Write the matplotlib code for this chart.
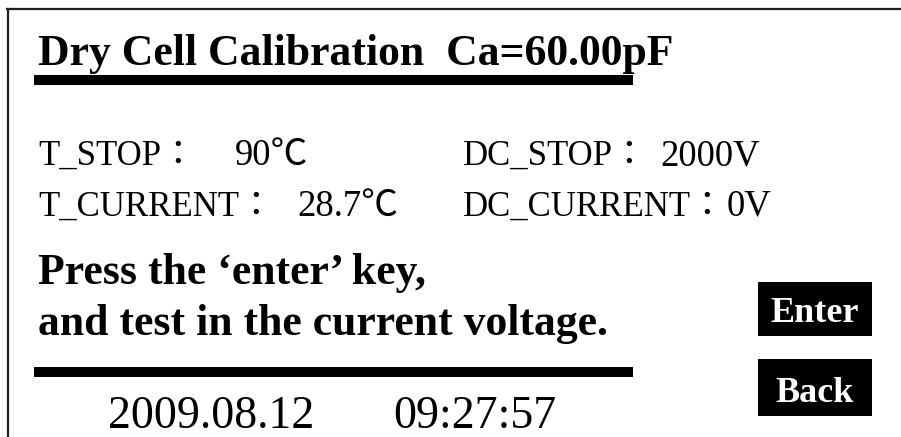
import matplotlib
matplotlib.use("Agg")
import matplotlib.pyplot as plt
from matplotlib.patches import Rectangle

# screen texts
title_text = "Dry Cell Calibration  Ca=60.00pF"
param_labels = ["T_STOP：", "T_CURRENT：", "DC_STOP：", "DC_CURRENT："]
param_values = ["90℃", "28.7℃", "2000V", "0V"]
prompt_lines = ["Press the \u2018enter\u2019 key,", "and test in the current voltage."]
date_text = "2009.08.12"
time_text = "09:27:57"
button_labels = ["Enter", "Back"]

# layout in screen pixels
W, H = 901, 437
label_x = [38, 38, 463, 463]
value_x = [235, 297, 660, 727]
row_y = [165, 216, 165, 216]
prompt_y = [284, 335]
button_boxes = [(758, 282, 114, 54), (758, 359, 114, 57)]
button_base = [322, 402]

serif = ["Liberation Serif", "Noto Sans CJK JP", "DejaVu Sans"]


def main():
    fig = plt.figure(figsize=(W / 100, H / 100), dpi=100)
    ax = fig.add_axes([0, 0, 1, 1])
    ax.set_xlim(0, W)
    ax.set_ylim(H, 0)
    ax.axis("off")

    # frame of the screen
    ax.plot([7, W], [9, 9], color="#202020", linewidth=1.6)
    ax.plot([8, 8], [9, H], color="#202020", linewidth=1.6)

    ax.text(38, 65, title_text, family=serif, fontweight="bold",
            fontsize=31.5, va="baseline", ha="left")
    ax.add_patch(Rectangle((34, 75), 599, 10, color="black", lw=0))

    for i, lab in enumerate(param_labels):
        ax.text(label_x[i], row_y[i], lab, family=serif, fontsize=25,
                va="baseline", ha="left")
        ax.text(value_x[i], row_y[i], param_values[i], family=serif,
                fontsize=26.5, va="baseline", ha="left")

    for line, y in zip(prompt_lines, prompt_y):
        ax.text(38, y, line, family=serif, fontweight="bold",
                fontsize=31.5, va="baseline", ha="left")
    ax.add_patch(Rectangle((34, 367), 599, 10, color="black", lw=0))

    ax.text(108, 428, date_text, family=serif, fontsize=33,
            va="baseline", ha="left")
    ax.text(393, 428, time_text, family=serif, fontsize=33,
            va="baseline", ha="left")

    for (bx, by, bw, bh), lab, yb in zip(button_boxes, button_labels, button_base):
        ax.add_patch(Rectangle((bx, by), bw, bh, color="black", lw=0))
        ax.text(bx + bw / 2, yb, lab, family=serif, fontweight="bold",
                fontsize=26, color="white", va="baseline", ha="center")

    fig.savefig("out.png", dpi=100, facecolor="white")


if __name__ == "__main__":
    main()
